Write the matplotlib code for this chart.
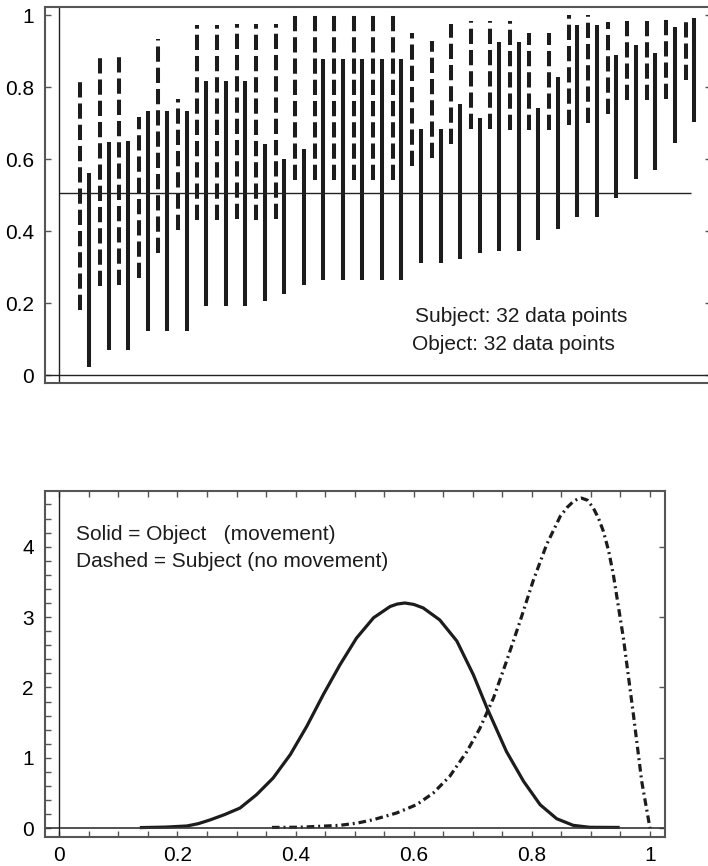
import numpy as np
import matplotlib
matplotlib.use("Agg")
import matplotlib.pyplot as plt
from matplotlib.ticker import MultipleLocator, FuncFormatter

plt.rcParams['font.family'] = ['Liberation Sans', 'DejaVu Sans']
plt.rcParams['lines.scale_dashes'] = False

# ---- upper panel: per-item intervals ----
items = np.arange(1, 33)
subject_lo = [0.181, 0.248, 0.250, 0.270, 0.341, 0.404, 0.431, 0.431, 0.435, 0.431,
              0.435, 0.543, 0.543, 0.543, 0.543, 0.543, 0.543, 0.583, 0.605, 0.642,
              0.684, 0.685, 0.683, 0.681, 0.681, 0.697, 0.702, 0.725, 0.764, 0.764,
              0.769, 0.822]
subject_hi = [0.819, 0.882, 0.885, 0.718, 0.935, 0.769, 0.973, 0.973, 0.975, 0.977,
              0.977, 1.000, 1.000, 1.000, 1.000, 1.000, 1.000, 0.952, 0.929, 0.977,
              0.984, 0.986, 0.986, 0.950, 0.950, 1.000, 1.000, 0.982, 0.986, 0.986,
              0.991, 0.984]
object_lo = [0.023, 0.070, 0.072, 0.123, 0.123, 0.123, 0.193, 0.193, 0.193, 0.206,
             0.226, 0.251, 0.264, 0.264, 0.264, 0.264, 0.264, 0.313, 0.313, 0.324,
             0.341, 0.345, 0.345, 0.376, 0.406, 0.440, 0.440, 0.494, 0.546, 0.570,
             0.646, 0.704]
object_hi = [0.563, 0.649, 0.651, 0.734, 0.734, 0.734, 0.818, 0.818, 0.818, 0.642,
             0.600, 0.628, 0.880, 0.880, 0.880, 0.880, 0.880, 0.686, 0.686, 0.753,
             0.716, 0.927, 0.927, 0.742, 0.829, 0.973, 0.973, 0.889, 0.918, 0.896,
             0.968, 0.993]
chance_level = 0.508

# ---- lower panel: densities ----
obj_x = [0.139, 0.180, 0.216, 0.235, 0.255, 0.280, 0.306, 0.334, 0.362, 0.391,
         0.419, 0.447, 0.475, 0.503, 0.532, 0.560, 0.572, 0.585, 0.600, 0.616,
         0.644, 0.673, 0.701, 0.724, 0.757, 0.786, 0.814, 0.842, 0.870, 0.898,
         0.946]
obj_y = [0.010, 0.017, 0.033, 0.065, 0.118, 0.195, 0.288, 0.478, 0.714, 1.046,
         1.449, 1.900, 2.320, 2.700, 2.990, 3.150, 3.185, 3.200, 3.180, 3.130,
         2.960, 2.660, 2.180, 1.710, 1.090, 0.667, 0.335, 0.136, 0.042, 0.014,
         0.012]
subj_x = [0.360, 0.407, 0.440, 0.475, 0.505, 0.532, 0.571, 0.605, 0.633, 0.661,
          0.690, 0.712, 0.735, 0.757, 0.780, 0.802, 0.825, 0.848, 0.860, 0.870,
          0.877, 0.884, 0.894, 0.904, 0.913, 0.921, 0.930, 0.938, 0.955, 0.972,
          0.986, 1.000]
subj_y = [0.012, 0.015, 0.028, 0.042, 0.075, 0.123, 0.217, 0.336, 0.500, 0.738,
          1.090, 1.420, 1.850, 2.370, 2.940, 3.510, 4.030, 4.430, 4.560, 4.640,
          4.675, 4.690, 4.660, 4.550, 4.400, 4.220, 3.940, 3.600, 2.700, 1.610,
          0.667, 0.000]

W, H = 708, 866
fig = plt.figure(figsize=(W / 100, H / 100), dpi=100)

ink = '#1c1c1c'
frame = '#555555'


def short_fmt(v, pos):
    if abs(v) < 1e-9:
        return '0'
    if abs(v - 1) < 1e-9:
        return '1'
    return f'{v:.1f}'


# ================= upper panel =================
ax1 = fig.add_axes([45 / W, 1 - 383.3 / H, (711 - 45) / W, (383.3 - 7) / H])
for lo, hi, x in zip(subject_lo, subject_hi, items + 0.075):
    ax1.plot([x, x], [lo, hi], color=ink, lw=2.9, dash_capstyle='butt',
             linestyle=(0, (11.0, 4.3)))
for lo, hi, x in zip(object_lo, object_hi, items + 0.52):
    ax1.plot([x, x], [lo, hi], color=ink, lw=2.9, solid_capstyle='butt')

ax1.axhline(0, color='#222222', lw=1.0)
ax1.axvline(0, color='#222222', lw=1.0)
ax1.hlines(chance_level, 0, 32.35, color='#222222', lw=1.0)

ax1.set_xlim(-0.732, 33.37)
ax1.set_ylim(-0.0217, 1.0236)
ax1.set_xticks([])
ax1.yaxis.set_major_locator(MultipleLocator(0.2))
ax1.yaxis.set_major_formatter(FuncFormatter(short_fmt))
ax1.tick_params(axis='y', direction='in', length=4.5, width=1.0, color=frame,
                left=True, right=True, labelsize=15, pad=8)
for s in ax1.spines.values():
    s.set_color(frame)
    s.set_linewidth(1.5)

ax1.text(18.21, 0.149, 'Subject: 32 data points', fontsize=15, color=ink, va='baseline')
ax1.text(18.04, 0.071, 'Object: 32 data points', fontsize=15, color=ink, va='baseline')

# ================= lower panel =================
ax2 = fig.add_axes([45 / W, 1 - 837.3 / H, (665 - 45) / W, (837.3 - 490.7) / H])
ax2.plot(obj_x, obj_y, color=ink, lw=2.3, solid_joinstyle='round')
ax2.plot(subj_x, subj_y, color=ink, lw=2.3, dash_joinstyle='round',
         linestyle=(0, (5.5, 2.8, 1.4, 2.8)), dash_capstyle='butt')

ax2.axhline(0, color='#333333', lw=1.2)
ax2.axvline(0, color='#222222', lw=1.0)

ax2.set_xlim(-0.0242, 1.0254)
ax2.set_ylim(-0.128, 4.795)
ax2.xaxis.set_major_locator(MultipleLocator(0.2))
ax2.xaxis.set_minor_locator(MultipleLocator(0.05))
ax2.yaxis.set_major_locator(MultipleLocator(1))
ax2.yaxis.set_minor_locator(MultipleLocator(0.2))
ax2.xaxis.set_major_formatter(FuncFormatter(short_fmt))
ax2.yaxis.set_major_formatter(FuncFormatter(lambda v, p: f'{v:.0f}'))
ax2.tick_params(axis='x', which='both', direction='in', length=4.5, width=1.0,
                color=frame, top=True, bottom=True, labelsize=15, pad=6)
ax2.tick_params(axis='y', which='major', direction='in', length=4.5, width=1.0,
                color=frame, left=True, right=True, labelsize=15, pad=8)
ax2.tick_params(axis='y', which='minor', direction='in', length=4.5, width=1.0,
                color=frame, left=True, right=False)
for s in ax2.spines.values():
    s.set_color(frame)
    s.set_linewidth(1.5)

ax2.text(0.0283, 4.095, 'Solid = Object   (movement)', fontsize=15, color=ink, va='baseline')
ax2.text(0.0283, 3.716, 'Dashed = Subject (no movement)', fontsize=15, color=ink, va='baseline')

fig.savefig('out.png', dpi=100)
